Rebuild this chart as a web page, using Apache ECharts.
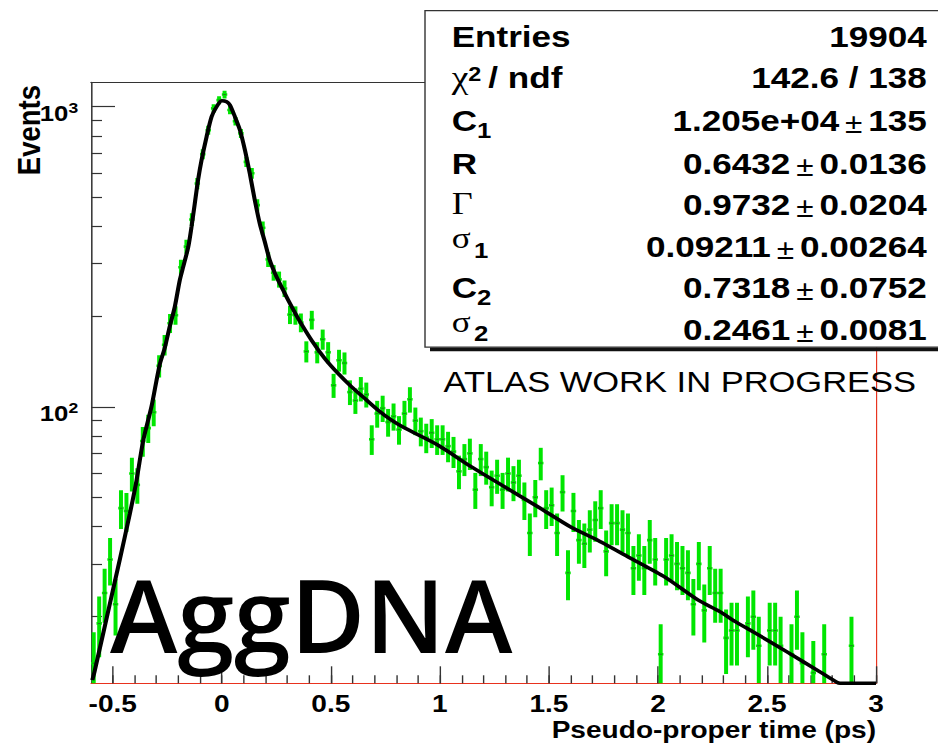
<!DOCTYPE html>
<html>
<head>
<meta charset="utf-8">
<script src="https://cdn.jsdelivr.net/npm/echarts@6/dist/echarts.min.js"></script>
<style>
  html, body { margin: 0; padding: 0; background: #fff; overflow: hidden; }
  /* The chart is laid out on an 802px surface and widened to the 938px page,
     which gives the wide ROOT-style lettering. */
  #chart { width: 802px; height: 744px; transform: scaleX(1.169576); transform-origin: 0 0; }
</style>
</head>
<body>
<div id="chart"></div>
<script>
// horizontal widening of the drawing surface (page px -> surface px)
const SX = 938 / 802;
const X = v => v / SX;

// ---- histogram binning ----
const BIN_LO = -0.6;
const BIN_WIDTH = 0.025;

// entries per bin, 144 bins from -0.6 ps to 3.0 ps
const counts = [
  14, 19, 24, 31, 22, 46, 45, 60, 55, 77, 85, 96,
  137, 161, 190, 202, 292, 342, 421, 555, 695, 835, 987, 1052, 1098, 975, 895, 815, 655, 600,
  470, 395, 310, 280, 266, 248, 203, 202, 191, 153, 195, 152, 168, 152, 118, 143, 140, 112, 105, 115,
  110, 78, 95, 99, 89, 93, 84, 95, 106, 90,
  83, 79, 82, 78, 78, 74, 71, 61, 67, 70, 53, 67, 63, 54, 59, 53, 60, 56, 59, 49,
  38, 50, 65, 46, 47, 38, 52, 28, 45, 36,
  35, 39, 42, 46, 33, 41, 41, 39, 38, 29, 32, 29, 36, 31, 15, 31, 32, 30, 29, 28,
  22, 30, 21, 29, 24, 24, 17, 18, 18, 7,
  19, 20, 16, 8, 18, 18, 16, 6, 15, 20, 14, 8, 13, 7, 15, 8, 6, 5, 7, 16,
  4, 5, 3, 4
];

// fitted function, sampled along the time axis (clamped to the frame floor at the end)
const fitTime = [
  -0.594, -0.583, -0.514, -0.468, -0.422, -0.391, -0.361, -0.323, -0.300, -0.284,
  -0.261, -0.239, -0.216, -0.193, -0.177, -0.154, -0.139, -0.124, -0.109, -0.093,
  -0.070, -0.047, -0.024, 0.000, 0.022, 0.037, 0.060, 0.083, 0.106, 0.128,
  0.151, 0.174, 0.197, 0.220, 0.251, 0.281, 0.304, 0.350, 0.411, 0.472,
  0.534, 0.595, 0.656, 0.717, 0.778, 0.839, 0.992, 1.145, 1.298, 1.451,
  1.600, 1.726, 1.879, 2.032, 2.185, 2.284, 2.353, 2.437, 2.590, 2.743,
  2.820, 2.835, 3.000
];
const fitValue = [
  12.3, 13.2, 22, 31, 44, 57, 77, 100, 122, 139,
  158, 185, 215, 264, 293, 341, 398, 476, 570, 664,
  794, 926, 1000, 1047, 1039, 1013, 926, 836, 717, 600,
  489, 408, 355, 308, 271, 245, 227, 197, 167, 145,
  129, 116.6, 106.6, 97.5, 90.3, 85, 74.5, 63.1, 54.1, 46.4,
  39.8, 35.9, 31.2, 27.1, 22.7, 20.8, 19.3, 17.8, 15.3, 13.1,
  12.1, 12, 12
];

// ---- axes ----
const X_MIN = -0.6, X_MAX = 3.0;
const Y_MIN = 12, Y_MAX = 1206;
const xMajorTicks = [-0.5, 0, 0.5, 1, 1.5, 2, 2.5, 3];
const xMinorTicks = [-0.5, -0.4, -0.3, -0.2, -0.1, 0, 0.1, 0.2, 0.3, 0.4, 0.5, 0.6, 0.7, 0.8, 0.9,
  1, 1.1, 1.2, 1.3, 1.4, 1.5, 1.6, 1.7, 1.8, 1.9, 2, 2.1, 2.2, 2.3, 2.4, 2.5, 2.6, 2.7, 2.8, 2.9, 3];
const yMajorTicks = [100, 1000];
const yMinorTicks = [20, 30, 40, 50, 60, 70, 80, 90, 200, 300, 400, 500, 600, 700, 800, 900];
const xTitle = 'Pseudo-proper time (ps)';
const yTitle = 'Events';

// ---- fit statistics box: label markup per row, values and errors ----
const statLabels = [
  '{m|Entries}',
  '{g|χ}{sup|2}{t|/ ndf}',
  '{m|C}{sub|1}',
  '{m|R}',
  '{gG|Γ}',
  '{gs|σ}{ssub|1}',
  '{m|C}{sub|2}',
  '{gs|σ}{ssub|2}'
];
const statValues = ['19904', '142.6 / 138', '1.205e+04', '0.6432', '0.9732', '0.09211', '0.7318', '0.2461'];
const statErrors = [null, null, '135', '0.0136', '0.0204', '0.00264', '0.0752', '0.0081'];

const SANS = 'Liberation Sans';
const SERIF = 'Liberation Serif';
const GREEN = '#00e600';
const FRAME = '#333333';
const RED = '#e8321e';

const chart = echarts.init(document.getElementById('chart'), null, { renderer: 'svg', width: 802, height: 744 });

// rich styles for the stats labels (paddings shift sub/superscripts)
const labelRich = {
  m: { fontSize: 30, fontWeight: 'bold', fontFamily: SANS, fill: '#000' },
  t: { fontSize: 30, fontWeight: 'bold', fontFamily: SANS, fill: '#000', padding: [0, 0, 0, 6] },
  g: { fontSize: 32, fontFamily: SERIF, fill: '#000' },
  gG: { fontSize: 31, fontFamily: SERIF, fill: '#000', padding: [0, 0, 2, 0] },
  gs: { fontSize: 30, fontFamily: SERIF, fill: '#000', padding: [0, 0, 15.6, 0] },
  sup: { fontSize: 20, fontWeight: 'bold', fontFamily: SANS, fill: '#000', padding: [0, 0, 7.2, 0] },
  sub: { fontSize: 22, fontWeight: 'bold', fontFamily: SANS, fill: '#000', padding: [18.4, 0, 0, 0] },
  ssub: { fontSize: 22, fontWeight: 'bold', fontFamily: SANS, fill: '#000', padding: [7.4, 0, 0, 3] }
};
const valueRich = {
  v: { fontSize: 30, fontWeight: 'bold', fontFamily: SANS, fill: '#000' },
  pm: { fontSize: 27, fontFamily: SANS, fill: '#000', padding: [6, 5, 0, 5] }
};

const rowBase = [46.7, 88.3, 131.5, 174, 215, 256.7, 298.3, 340];
const els = [];
els.push({ type: 'rect', z: 50, shape: { x: X(430), y: 347.2, width: 500, height: 4 }, style: { fill: '#111' } });
els.push({ type: 'rect', z: 51, shape: { x: X(425), y: 10.7, width: 500, height: 336.5 }, style: { fill: '#fff', stroke: FRAME, lineWidth: 1.2 } });

function txt(x, y, text, size, family, weight, align, extra) {
  return Object.assign({
    type: 'text', z: 52, x: x, y: y,
    style: {
      text: text, fontSize: size, fontFamily: family, fontWeight: weight || 'normal',
      fill: '#000', align: align || 'left', verticalAlign: 'middle'
    }
  }, extra || {});
}

statLabels.forEach((markup, k) => {
  const y = rowBase[k] - 10.7;
  els.push({
    type: 'text', z: 52, x: X(451.7), y: y,
    style: { text: markup, rich: labelRich, align: 'left', verticalAlign: 'middle' }
  });
  const valText = statErrors[k] ? '{v|' + statValues[k] + '}{pm|±}{v|' + statErrors[k] + '}' : '{v|' + statValues[k] + '}';
  els.push({
    type: 'text', z: 52, x: X(926.7), y: y,
    style: { text: valText, rich: valueRich, align: 'right', verticalAlign: 'middle' }
  });
});

// pad annotations
els.push(txt(X(443.5), 382, 'ATLAS WORK IN PROGRESS', 29.5, SANS));
els.push(txt(X(110), 613.5, 'AggDNA', 102, 'Open Sans', 600, 'left', { scaleX: 1 / SX }));

// axis titles
els.push(txt(X(876), 729.5, xTitle, 24, SANS, 'bold', 'right'));
els.push(txt(X(29), 85, yTitle, 27.5, SANS, 'bold', 'right', { rotation: Math.PI / 2 }));

// ---- series data ----
const histData = counts.map((c, i) => [BIN_LO + BIN_WIDTH * (i + 0.5), c]);
const fitData = fitTime.map((t, i) => [t, fitValue[i]]);

function renderBin(params, api) {
  const x = api.value(0);
  const v = api.value(1);
  const e = Math.sqrt(v);
  const c = api.coord([x, v]);
  const hi = api.coord([x, v + e]);
  const lo = api.coord([x, Math.max(v - e, 0.5)]);
  const xl = api.coord([x - BIN_WIDTH / 2, v])[0];
  const xr = api.coord([x + BIN_WIDTH / 2, v])[0];
  return {
    type: 'group',
    children: [
      { type: 'rect', shape: { x: c[0] - 1.7, y: hi[1], width: 3.4, height: lo[1] - hi[1] }, style: { fill: GREEN } },
      { type: 'rect', shape: { x: xl, y: c[1] - 1.3, width: xr - xl, height: 2.6 }, style: { fill: GREEN } },
      { type: 'rect', shape: { x: c[0] - 1.2, y: c[1] - 0.5, width: 2.4, height: 1 }, style: { fill: '#1f7a1f' } }
    ]
  };
}

const tickStyle = { color: FRAME, width: 1.2 };
const hidden = { show: false };

chart.setOption({
  backgroundColor: '#ffffff',
  animation: false,
  grid: { left: X(91), right: 802 - X(876), top: 82.3, bottom: 744 - 683.3, containLabel: false, outerBoundsMode: 'none' },
  xAxis: [
    {
      type: 'value', min: X_MIN, max: X_MAX, position: 'bottom',
      axisLine: { show: true, onZero: false, lineStyle: { color: RED, width: 1 } },
      axisTick: { show: true, inside: true, length: 17, customValues: xMajorTicks, lineStyle: tickStyle },
      axisLabel: { show: true, customValues: xMajorTicks, margin: 8, color: '#000', fontSize: 24, fontWeight: 'bold', fontFamily: SANS },
      splitLine: hidden
    },
    {
      type: 'value', min: X_MIN, max: X_MAX, position: 'bottom',
      axisLine: { show: false, onZero: false },
      axisTick: { show: true, inside: true, length: 8, customValues: xMinorTicks, lineStyle: tickStyle },
      axisLabel: hidden, splitLine: hidden
    },
    {
      type: 'value', min: X_MIN, max: X_MAX, position: 'top',
      axisLine: { show: true, onZero: false, lineStyle: { color: FRAME, width: 1.2 } },
      axisTick: hidden, axisLabel: hidden, splitLine: hidden
    }
  ],
  yAxis: [
    {
      type: 'log', logBase: 10, min: Y_MIN, max: Y_MAX, position: 'left',
      axisLine: { show: true, onZero: false, lineStyle: { color: FRAME, width: 1.3 } },
      axisTick: { show: true, inside: true, length: X(24), customValues: yMajorTicks, lineStyle: tickStyle },
      axisLabel: {
        show: true, customValues: yMajorTicks, margin: 11, padding: [13, 0, 0, 0],
        color: '#000', fontSize: 22, fontWeight: 'bold', fontFamily: SANS, lineHeight: 26,
        formatter: v => '10{s|' + Math.round(Math.log10(v)) + '}',
        rich: {
          s: { color: '#000', fontSize: 15, fontWeight: 'bold', fontFamily: SANS, lineHeight: 11, verticalAlign: 'top' }
        }
      },
      splitLine: hidden
    },
    {
      type: 'log', logBase: 10, min: Y_MIN, max: Y_MAX, position: 'left',
      axisLine: { show: false, onZero: false },
      axisTick: { show: true, inside: true, length: X(11), customValues: yMinorTicks, lineStyle: tickStyle },
      axisLabel: hidden, splitLine: hidden
    },
    {
      type: 'log', logBase: 10, min: Y_MIN, max: Y_MAX, position: 'right',
      axisLine: { show: true, onZero: false, lineStyle: { color: RED, width: 1 } },
      axisTick: hidden, axisLabel: hidden, splitLine: hidden
    }
  ],
  series: [
    {
      name: 'Events', type: 'custom', xAxisIndex: 0, yAxisIndex: 0,
      data: histData, renderItem: renderBin, clip: true, z: 2, silent: true
    },
    {
      name: 'Fit', type: 'line', xAxisIndex: 0, yAxisIndex: 0,
      data: fitData, showSymbol: false, symbol: 'none', smooth: 0.25, clip: false, z: 3,
      lineStyle: { color: '#000', width: 3.5 }, silent: true
    }
  ],
  graphic: { elements: els }
});
</script>
</body>
</html>
